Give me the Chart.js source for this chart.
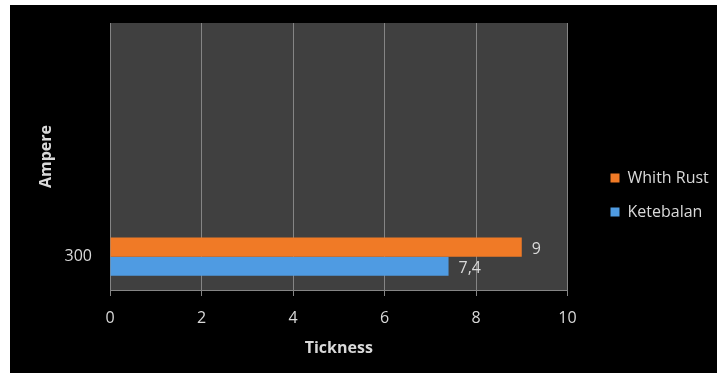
<!DOCTYPE html>
<html>
<head>
<meta charset="utf-8">
<script src="https://cdn.jsdelivr.net/npm/chart.js@4.4.1/dist/chart.umd.min.js"></script>
<style>
  html, body { margin: 0; padding: 0; background: #ffffff; }
  #wrap { position: absolute; left: 10px; top: 5px; width: 707px; height: 368px; background: #000000; }
  canvas { display: block; }
</style>
</head>
<body>
<div id="wrap"><canvas id="c" width="707" height="368"></canvas></div>
<script>
const categories = ['300', '', '', ''];
const whithRust = [9, null, null, null];
const ketebalan = [7.4, null, null, null];
const xTicks = [0, 2, 4, 6, 8, 10];
const seriesNames = ['Whith Rust', 'Ketebalan'];
const xTitle = 'Tickness';
const yTitle = 'Ampere';

const FONT = "'Open Sans', 'DejaVu Sans', sans-serif";
const TEXT = '#d9d9d9';
const GRID = '#858585';

const plotBg = {
  id: 'plotBg',
  beforeDraw(chart) {
    const { ctx, chartArea: a } = chart;
    ctx.save();
    ctx.fillStyle = '#404040';
    ctx.fillRect(a.left, a.top, a.right - a.left, a.bottom - a.top);
    ctx.restore();
  }
};

const valueLabels = {
  id: 'valueLabels',
  afterDatasetsDraw(chart) {
    const { ctx } = chart;
    ctx.save();
    ctx.fillStyle = TEXT;
    ctx.font = '16px ' + FONT;
    ctx.textAlign = 'left';
    ctx.textBaseline = 'middle';
    chart.data.datasets.forEach((ds, i) => {
      const meta = chart.getDatasetMeta(i);
      meta.data.forEach((el, j) => {
        const v = ds.data[j];
        if (v === null || v === undefined) return;
        ctx.fillText(String(v).replace('.', ','), el.x + 10, el.y + 2);
      });
    });
    ctx.restore();
  }
};

new Chart(document.getElementById('c'), {
  type: 'bar',
  data: {
    labels: categories,
    datasets: [
      { label: seriesNames[0], data: whithRust, backgroundColor: '#f07a26', borderWidth: 0 },
      { label: seriesNames[1], data: ketebalan, backgroundColor: '#4f9be2', borderWidth: 0 }
    ]
  },
  options: {
    indexAxis: 'y',
    responsive: false,
    animation: false,
    layout: { autoPadding: false, padding: { top: 12, left: 0, right: 8, bottom: 0 } },
    datasets: { bar: { categoryPercentage: 0.57, barPercentage: 1.0 } },
    plugins: {
      legend: {
        position: 'right',
        align: 'center',
        labels: {
          color: TEXT,
          font: { family: FONT, size: 16 },
          boxWidth: 9,
          boxHeight: 9,
          padding: 18
        }
      },
      tooltip: { enabled: false }
    },
    scales: {
      x: {
        type: 'linear',
        position: 'bottom',
        min: 0,
        max: 10,
        afterBuildTicks(s) { s.ticks = xTicks.map(v => ({ value: v })); },
        afterFit(s) { s.height = 83; },
        grid: { color: GRID, lineWidth: 1, tickLength: 6, drawTicks: true },
        border: { color: GRID },
        ticks: { color: TEXT, font: { family: FONT, size: 16 }, padding: 13 },
        title: { display: true, text: xTitle, color: TEXT, font: { family: FONT, size: 16, weight: 'bold' }, padding: { top: 15, bottom: 15 } }
      },
      topSpacer: {
        type: 'linear',
        axis: 'x',
        position: 'top',
        display: true,
        afterFit(s) { s.height = 6; },
        grid: { display: false, drawTicks: false },
        border: { display: false },
        ticks: { display: false }
      },
      y: {
        type: 'category',
        position: 'left',
        reverse: true,
        afterFit(s) { s.width = 100; },
        grid: { display: false, drawTicks: true, tickLength: 18 },
        border: { display: true, color: GRID },
        ticks: { color: TEXT, font: { family: FONT, size: 16 }, padding: 0 },
        title: { display: true, text: yTitle, color: TEXT, font: { family: FONT, size: 16, weight: 'bold' }, padding: { top: 27, bottom: 27 } }
      },
      spacer: {
        type: 'linear',
        position: 'right',
        display: true,
        afterFit(s) { s.width = 25; },
        grid: { display: false, drawTicks: false },
        border: { display: false },
        ticks: { display: false }
      }
    }
  },
  plugins: [plotBg, valueLabels]
});
</script>
</body>
</html>
